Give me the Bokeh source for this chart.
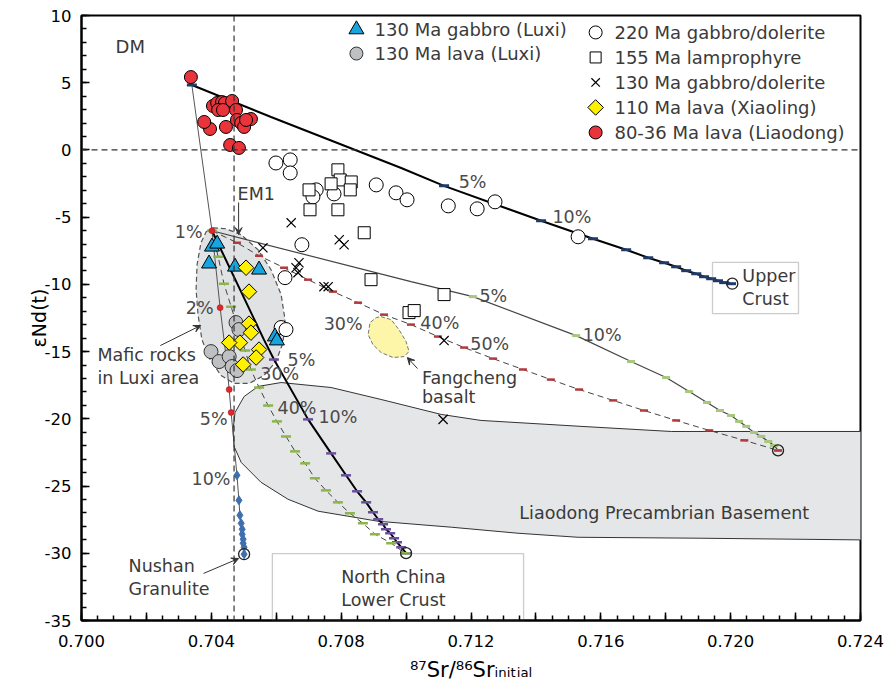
import math
from bokeh.plotting import figure
from bokeh.models import (Range1d, FixedTicker, Span, Label, Arrow, VeeHead, BoxAnnotation)
from bokeh.embed import file_html
from bokeh.resources import INLINE

# ---------------- data ----------------
# 80-36 Ma lava (Liaodong)
red_x = [0.70337, 0.70405, 0.70418, 0.70433, 0.70442, 0.70421, 0.70436, 0.70464, 0.70476, 0.70479,
         0.70492, 0.70501, 0.70522, 0.70507, 0.70445, 0.70396, 0.70378, 0.70458, 0.70485]
red_y = [5.42, 3.27, 3.49, 3.56, 3.49, 2.97, 2.97, 3.64, 2.97, 2.23,
         2.00, 1.71, 2.30, 2.23, 1.71, 1.56, 2.08, 0.37, 0.15]
# 220 Ma gabbro/dolerite
oc_x = [0.70599, 0.70643, 0.70643, 0.70723, 0.70713, 0.70778, 0.70908, 0.70969, 0.71003, 0.71130,
        0.71219, 0.71274, 0.71530, 0.70679, 0.70627, 0.70615, 0.70630]
oc_y = [-0.97, -0.74, -1.71, -2.97, -3.49, -3.27, -2.60, -3.19, -3.71, -4.16,
        -4.38, -3.86, -6.46, -7.05, -9.50, -13.21, -13.36]
# 155 Ma lamprophyre
sq_x = [0.70790, 0.70797, 0.70769, 0.70831, 0.70828, 0.70701, 0.70704, 0.70790, 0.70871, 0.70892,
        0.71117, 0.71009, 0.71025]
sq_y = [-1.48, -2.23, -2.52, -2.38, -2.97, -2.97, -4.45, -4.45, -6.16, -9.65,
        -10.76, -12.10, -11.95]
# 130 Ma gabbro/dolerite
xx_x = [0.70646, 0.70559, 0.70794, 0.70809, 0.70670, 0.70661, 0.70667, 0.70747, 0.70760, 0.71117, 0.71114]
xx_y = [-5.42, -7.28, -6.68, -7.05, -8.39, -8.76, -9.13, -10.17, -10.17, -14.18, -20.04]
# 110 Ma lava (Xiaoling)
yd_x = [0.70507, 0.70516, 0.70516, 0.70522, 0.70488, 0.70455, 0.70547, 0.70538, 0.70498]
yd_y = [-8.76, -10.54, -12.92, -13.59, -14.33, -14.33, -14.85, -15.44, -15.96]
# 130 Ma gabbro (Luxi)
bt_x = [0.70402, 0.70418, 0.70393, 0.70473, 0.70547, 0.70596, 0.70602]
bt_y = [-7.20, -6.98, -8.46, -8.69, -8.91, -13.88, -14.18]
# 130 Ma lava (Luxi)
gc_x = [0.70476, 0.70485, 0.70399, 0.70424, 0.70455, 0.70464, 0.70479]
gc_y = [-12.84, -13.36, -15.00, -15.74, -15.37, -16.11, -16.41]

# mixing curves (vertices)
a_x = [0.70340, 0.70584, 0.70985, 0.71117, 0.71416, 0.71576, 0.71678, 0.71746, 0.71795, 0.71832,
       0.71863, 0.71894, 0.71918, 0.71940, 0.71961, 0.71980, 0.72001]
a_y = [4.83, 2.45, -1.34, -2.67, -5.27, -6.61, -7.42, -8.02, -8.39, -8.69,
       -8.98, -9.21, -9.43, -9.58, -9.73, -9.87, -9.95]
a_tick = [0, 3, 4, 5, 6, 7, 8, 9, 10, 11, 12, 13, 14, 15, 16]

b_x = [0.70340, 0.70402, 0.70427, 0.70445, 0.70455, 0.70461, 0.70479, 0.70485, 0.70488, 0.70492,
       0.70495, 0.70495, 0.70498, 0.70498, 0.70501, 0.70501]
b_y = [4.83, -6.01, -11.73, -15.29, -17.82, -19.53, -24.20, -26.06, -27.17, -27.77,
       -28.21, -28.58, -28.95, -29.25, -29.55, -30.07]
b_red = [1, 2, 3, 4, 5]
b_blue = [6, 7, 8, 9, 10, 11, 12, 13, 14, 15]

c_x = [0.70402, 0.71015, 0.71206, 0.71524, 0.71693, 0.71801, 0.71872, 0.71927, 0.71967, 0.72001,
       0.72026, 0.72048, 0.72072, 0.72094, 0.72116, 0.72134, 0.72146]
c_y = [-6.01, -9.80, -10.91, -13.81, -15.74, -16.93, -17.97, -18.78, -19.38, -19.75,
       -20.19, -20.56, -21.01, -21.31, -21.68, -21.98, -22.35]
c_tick = [0, 2, 3, 4, 5, 6, 7, 8, 9, 10, 11, 12, 13, 14, 15, 16]

d_x = [0.70402, 0.70479, 0.70547, 0.70624, 0.70698, 0.70775, 0.70852, 0.70932, 0.71015, 0.71098,
       0.71179, 0.71268, 0.71360, 0.71446, 0.71533, 0.71638, 0.71733, 0.71832, 0.71934, 0.72042, 0.72146]
d_y = [-6.01, -6.90, -7.87, -8.76, -9.65, -10.54, -11.36, -12.25, -12.99, -13.88,
       -14.70, -15.52, -16.33, -17.08, -17.82, -18.63, -19.38, -20.12, -20.86, -21.60, -22.35]
d_tick = list(range(1, 21))

e_x = [0.70402, 0.70562, 0.70593, 0.70698, 0.70769, 0.70815, 0.70849, 0.70877, 0.70898, 0.70914,
       0.70929, 0.70938, 0.70951, 0.70963, 0.70972, 0.70985, 0.71000]
e_y = [-6.01, -14.11, -15.59, -20.04, -22.57, -24.20, -25.39, -26.21, -26.95, -27.47,
       -27.84, -28.21, -28.51, -28.88, -29.18, -29.55, -29.99]
e_tick = list(range(2, 17))

f_x = [0.70402, 0.70421, 0.70439, 0.70461, 0.70482, 0.70504, 0.70522, 0.70547, 0.70575, 0.70602,
       0.70630, 0.70658, 0.70689, 0.70719, 0.70753, 0.70790, 0.70827, 0.70867, 0.70904, 0.70954, 0.70997]
f_y = [-6.01, -7.94, -9.95, -11.66, -13.29, -14.92, -16.33, -17.67, -19.01, -20.19,
       -21.31, -22.42, -23.31, -24.42, -25.32, -26.21, -27.02, -27.77, -28.58, -29.25, -29.99]
f_tick = list(range(0, 21))

# end-members (open circles)
em_x = [0.72005, 0.72146, 0.71000, 0.70501]
em_y = [-9.95, -22.35, -29.99, -30.07]

# fields
liao_x = [0.70467, 0.70473, 0.70501, 0.70544, 0.70615, 0.70769, 0.70923, 0.71108, 0.71231, 0.71539,
          0.71817, 0.7250, 0.7250, 0.71909, 0.71530, 0.71345, 0.71139, 0.70914, 0.70729, 0.70636,
          0.70553, 0.70492, 0.70470]
liao_y = [-20.79, -19.53, -18.34, -17.59, -17.30, -17.67, -18.56, -19.67, -20.12, -20.56,
          -20.94, -20.94, -29.03, -28.88, -28.81, -28.51, -28.06, -27.62, -26.87, -25.98,
          -24.72, -23.24, -22.05]
luxi_x = [0.70405, 0.70445, 0.70492, 0.70544, 0.70584, 0.70615, 0.70627, 0.70621, 0.70599, 0.70562,
          0.70516, 0.70470, 0.70430, 0.70396, 0.70371, 0.70359, 0.70353, 0.70356, 0.70368, 0.70384]
luxi_y = [-5.79, -5.86, -6.31, -7.42, -8.91, -10.76, -12.62, -14.33, -15.74, -16.78,
          -17.37, -17.37, -16.78, -15.59, -14.11, -12.25, -10.39, -8.54, -6.90, -6.09]
fang_x = [0.70923, 0.70954, 0.70978, 0.71000, 0.71009, 0.70994, 0.70960, 0.70923, 0.70898, 0.70883,
          0.70889, 0.70908]
fang_y = [-12.40, -12.62, -13.36, -14.25, -14.99, -15.37, -15.44, -15.07, -14.48, -13.73,
          -12.84, -12.47]

x_ticks = [0.700, 0.702, 0.704, 0.706, 0.708, 0.710, 0.712, 0.714, 0.716, 0.718, 0.720, 0.722, 0.724]
x_labels = ["0.700", "", "0.704", "", "0.708", "", "0.712", "", "0.716", "", "0.720", "", "0.724"]
y_ticks = [-35, -30, -25, -20, -15, -10, -5, 0, 5, 10]
y_labels = ["-35", "-30", "-25", "-20", "-15", "-10", "-5", "0", "5", "10"]

legend1 = ["130 Ma gabbro (Luxi)", "130 Ma lava (Luxi)"]
legend2 = ["220 Ma gabbro/dolerite", "155 Ma lamprophyre", "130 Ma gabbro/dolerite",
           "110 Ma lava (Xiaoling)", "80-36 Ma lava (Liaodong)"]

x_title = "\u2078\u2077Sr/\u2078\u2076Sr\u1d62\u2099\u1d62\u209c\u1d62\u2090\u2097"
y_title = "\u03b5Nd(t)"

FONT = "DejaVu Sans"
TXT = "#3a3a3a"

p = figure(width=885, height=689, x_range=Range1d(0.700, 0.724), y_range=Range1d(-35, 10),
           output_backend="svg", toolbar_location=None,
           min_border_left=81, min_border_right=25, min_border_top=15, min_border_bottom=69)
p.grid.visible = False
p.outline_line_color = "black"
p.outline_line_width = 2
p.background_fill_color = "white"

p.xaxis.ticker = FixedTicker(ticks=x_ticks, minor_ticks=[round(0.700 + 0.0005 * i, 4) for i in range(49)])
p.xaxis.major_label_overrides = {t: l for t, l in zip(x_ticks, x_labels)}
p.yaxis.ticker = FixedTicker(ticks=y_ticks, minor_ticks=list(range(-35, 11)))
p.yaxis.major_label_overrides = {t: l for t, l in zip(y_ticks, y_labels)}
for ax in (p.xaxis, p.yaxis):
    ax.axis_line_width = 2
    ax.axis_line_color = "black"
    ax.major_tick_in = 8
    ax.major_tick_out = 0
    ax.minor_tick_in = 5
    ax.minor_tick_out = 0
    ax.major_tick_line_width = 1.5
    ax.minor_tick_line_width = 1.5
    ax.major_label_text_font = FONT
    ax.major_label_text_font_size = "16.5px"
    ax.major_label_text_color = "black"
    ax.axis_label_text_font = FONT
    ax.axis_label_text_font_style = "normal"
    ax.axis_label_text_color = "black"
p.xaxis.major_label_standoff = 14
p.yaxis.major_label_standoff = 10
p.xaxis.axis_label = x_title
p.xaxis.axis_label_text_font_size = "21px"
p.xaxis.axis_label_standoff = 8
p.yaxis.axis_label = y_title
p.yaxis.axis_label_text_font_size = "19px"
p.yaxis.axis_label_standoff = -8

# fields
p.patch(liao_x, liao_y, fill_color="#e5e6e8", line_color="#333333", line_width=1)
p.patch(luxi_x, luxi_y, fill_color="#e1e2e4", line_color="#555555", line_width=1.2, line_dash="5 3")
p.patch(fang_x, fang_y, fill_color="#fdf5a8", line_color="#777777", line_width=1, line_dash="4 2")

# reference lines
p.add_layout(Span(location=0.7047, dimension="height", line_color="#333333", line_width=1.2, line_dash="6 4"))
p.add_layout(Span(location=0, dimension="width", line_color="#333333", line_width=1.2, line_dash="6 4"))

# boxes
p.add_layout(BoxAnnotation(left=0.71944, right=0.72209, top=-8.37, bottom=-12.17,
                           fill_alpha=0, line_color="#555555", line_width=1.3))
p.add_layout(BoxAnnotation(left=0.70588, right=0.71362, top=-30.02, bottom=-35,
                           fill_alpha=0, line_color="#555555", line_width=1.3))

# mixing curves
p.line(a_x, a_y, line_color="black", line_width=2)
p.line(b_x, b_y, line_color="#555555", line_width=1)
p.line(c_x, c_y, line_color="#444444", line_width=1.2)
p.line(d_x, d_y, line_color="#444444", line_width=1, line_dash="6 4")
p.line(e_x, e_y, line_color="black", line_width=2)
p.line(f_x, f_y, line_color="#444444", line_width=1, line_dash="6 4")

def pick(xs, ys, idx):
    return [xs[i] for i in idx], [ys[i] for i in idx]

tx, ty = pick(a_x, a_y, a_tick)
p.scatter(tx, ty, marker="dash", size=10, line_color="#1f3a68", line_width=3)
tx, ty = pick(c_x, c_y, c_tick)
p.scatter(tx, ty, marker="dash", size=8, line_color="#a7c77f", line_width=3)
tx, ty = pick(d_x, d_y, d_tick)
p.scatter(tx, ty, marker="dash", size=8, line_color="#b23a3b", line_width=2.5)
tx, ty = pick(e_x, e_y, e_tick)
p.scatter(tx, ty, marker="dash", size=10, line_color="#6a4f9c", line_width=2.5)
tx, ty = pick(f_x, f_y, f_tick)
p.scatter(tx, ty, marker="dash", size=10, line_color="#8cb54c", line_width=2.5)
tx, ty = pick(b_x, b_y, b_red)
p.scatter(tx, ty, marker="circle", size=6, fill_color="#e3262b", line_color="#9a1a1a", line_width=0.5)
tx, ty = pick(b_x, b_y, b_blue)
p.scatter(tx, ty, marker="diamond", size=9, fill_color="#3e6fad", line_color="#3e6fad", line_width=1)

p.scatter(em_x, em_y, marker="circle", size=11, fill_alpha=0, line_color="#222222", line_width=1.3)

# data points
p.scatter(oc_x, oc_y, marker="circle", size=14, fill_color="white", line_color="black", line_width=1)
p.scatter(sq_x, sq_y, marker="square", size=12, fill_color="white", line_color="black", line_width=1)
p.scatter(xx_x, xx_y, marker="x", size=13, line_color="black", line_width=1.2)
p.scatter(gc_x, gc_y, marker="circle", size=14, fill_color="#bfc0c2", line_color="#333333", line_width=1)
p.scatter(bt_x, bt_y, marker="triangle", size=15, fill_color="#18a4de", line_color="black", line_width=1)
p.scatter(yd_x, yd_y, marker="square", angle=math.pi / 4, size=11, fill_color="#fff000", line_color="black", line_width=1)
p.scatter(red_x, red_y, marker="circle", size=13, fill_color="#e8343a", line_color="black", line_width=1)

# legend (drawn by hand: two columns)
p.scatter([0.70847], [8.96], marker="triangle", size=15, fill_color="#18a4de", line_color="black")
p.scatter([0.70847], [7.17], marker="circle", size=13, fill_color="#bfc0c2", line_color="#333333")
l2y = [8.74, 6.88, 5.02, 3.16, 1.30]
p.scatter([0.71584], [l2y[0]], marker="circle", size=13, fill_color="white", line_color="black")
p.scatter([0.71584], [l2y[1]], marker="square", size=11, fill_color="white", line_color="black")
p.scatter([0.71584], [l2y[2]], marker="x", size=12, line_color="black", line_width=1.2)
p.scatter([0.71584], [l2y[3]], marker="square", angle=math.pi / 4, size=11, fill_color="#fff000", line_color="black")
p.scatter([0.71584], [l2y[4]], marker="circle", size=13, fill_color="#e8343a", line_color="black")

def lab(x, y, t, size="17.5px", align="left", base="middle", color=TXT):
    p.add_layout(Label(x=x, y=y, text=t, text_font=FONT, text_font_size=size, text_color=color,
                       text_align=align, text_baseline=base))

for t, yy in zip(legend1, [8.96, 7.17]):
    lab(0.70903, yy, t, size="18px")
for t, yy in zip(legend2, l2y):
    lab(0.71642, yy, t, size="18px")

PC = "#4a4a4a"
lab(0.70105, 7.69, "DM", size="18px")
lab(0.70481, -3.24, "EM1", size="17.5px")
lab(0.70373, -6.14, "1%", align="right", color=PC)
lab(0.70407, -11.79, "2%", align="right", color=PC)
lab(0.70450, -19.98, "5%", align="right", color=PC)
lab(0.70459, -24.44, "10%", align="right", color=PC)
lab(0.71162, -2.42, "5%", color=PC)
lab(0.71451, -5.02, "10%", color=PC)
lab(0.71226, -10.90, "5%", color=PC)
lab(0.71544, -13.73, "10%", color=PC)
lab(0.70746, -12.91, "30%", color=PC)
lab(0.71044, -12.84, "40%", color=PC)
lab(0.71198, -14.40, "50%", color=PC)
lab(0.70635, -15.66, "5%", color=PC)
lab(0.70730, -19.90, "10%", color=PC)
lab(0.70551, -16.63, "30%", color=PC)
lab(0.70604, -19.23, "40%", color=PC)
lab(0.72036, -9.41, "Upper")
lab(0.72036, -11.05, "Crust")
lab(0.70961, -31.80, "North China", align="center")
lab(0.70961, -33.44, "Lower Crust", align="center")
lab(0.70145, -30.98, "Nushan")
lab(0.70145, -32.62, "Granulite")
lab(0.70049, -15.22, "Mafic rocks")
lab(0.70049, -16.93, "in Luxi area")
lab(0.71049, -16.93, "Fangcheng")
lab(0.71049, -18.41, "basalt")
lab(0.71349, -26.97, "Liaodong Precambrian Basement")

# arrows
def arr(x0, y0, x1, y1):
    p.add_layout(Arrow(end=VeeHead(size=7, fill_color="#333333", line_color="#333333", line_width=1),
                       x_start=x0, y_start=y0, x_end=x1, y_end=y1, line_color="#333333", line_width=1))
arr(0.70484, -3.91, 0.70484, -6.29)
arr(0.70243, -14.55, 0.70367, -13.06)
arr(0.71035, -16.26, 0.71004, -15.44)
arr(0.70376, -31.50, 0.70484, -30.39)

open("out.html", "w").write(file_html(p, INLINE))
